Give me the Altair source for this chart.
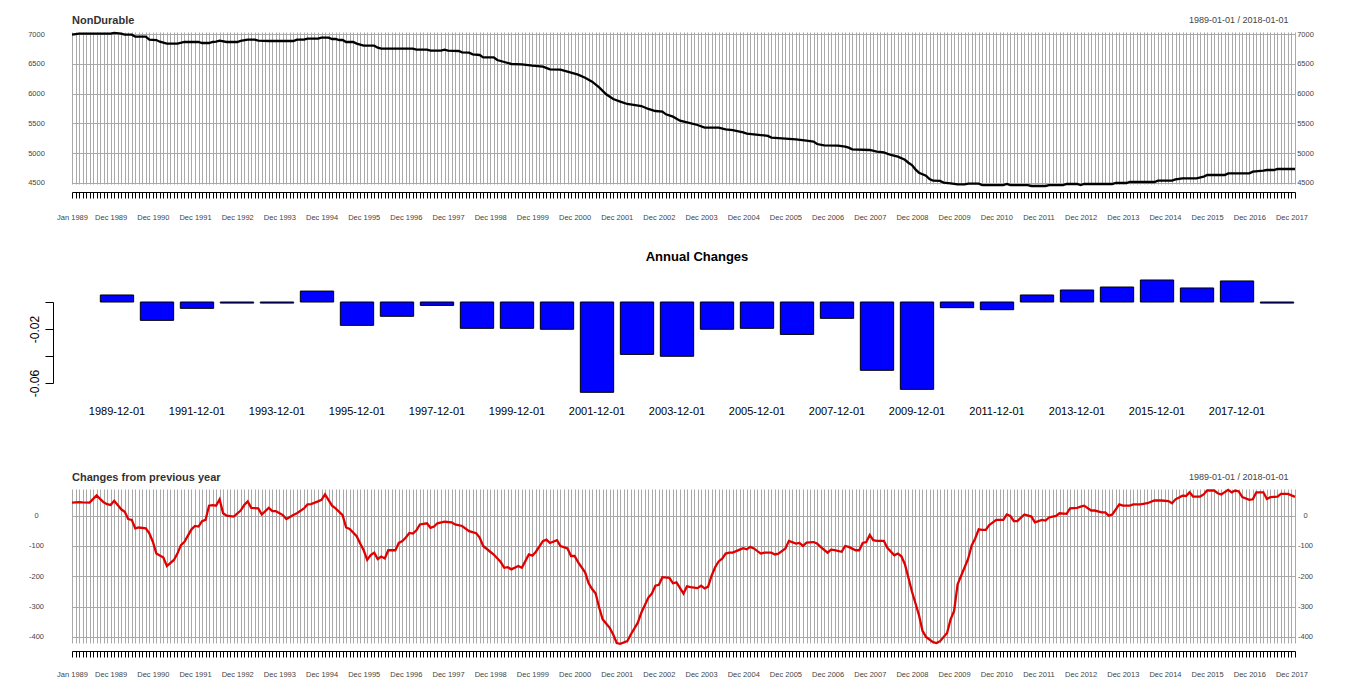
import altair as alt
import pandas as pd

FONT = "Liberation Sans"
GRID = "#A9A9A9"
TXT = "#444444"

# ---------------- data ----------------
# NonDurable level, month index (0 = Jan 1989 ... 348 = Jan 2018)
nd_month = [0, 2, 5, 8, 11, 12, 14, 15, 17, 18, 21, 22, 24, 25, 27, 30, 32, 36, 37, 39,
            40, 41, 42, 44, 47, 48, 50, 52, 53, 56, 63, 64, 66, 67, 70, 71, 73, 74, 75, 76,
            77, 78, 80, 81, 83, 86, 87, 88, 97, 98, 101, 102, 105, 106, 107, 110, 111, 113, 114, 116,
            117, 120, 121, 123, 125, 128, 131, 134, 136, 139, 141, 144, 146, 148, 150, 152, 154, 156, 158, 162,
            164, 166, 168, 169, 171, 173, 175, 178, 180, 184, 186, 188, 190, 191, 192, 196, 198, 199, 203, 206,
            209, 211, 212, 214, 218, 220, 221, 222, 227, 229, 231, 233, 235, 237, 238, 239, 240, 241, 243, 244,
            245, 247, 248, 250, 252, 254, 255, 258, 259, 265, 266, 267, 272, 273, 277, 278, 282, 283, 286, 287,
            288, 296, 297, 300, 301, 308, 309, 313, 314, 316, 320, 322, 323, 328, 329, 335, 336, 339, 340, 342,
            343, 348]
nd_value = [6989, 7006, 7006, 7006, 7006, 7018, 7006, 6989, 6989, 6955, 6955, 6905, 6899, 6871, 6838, 6838, 6866, 6866, 6849, 6849,
            6866, 6871, 6888, 6866, 6866, 6883, 6905, 6905, 6888, 6883, 6883, 6905, 6905, 6922, 6922, 6938, 6938, 6916, 6916, 6899,
            6899, 6866, 6866, 6838, 6804, 6804, 6771, 6754, 6754, 6737, 6737, 6720, 6720, 6737, 6720, 6715, 6692, 6687, 6659, 6648,
            6608, 6608, 6564, 6530, 6497, 6491, 6469, 6452, 6407, 6402, 6368, 6318, 6267, 6200, 6105, 5988, 5909, 5865, 5826, 5792,
            5742, 5708, 5697, 5652, 5613, 5546, 5518, 5473, 5428, 5428, 5400, 5389, 5361, 5350, 5328, 5305, 5289, 5261, 5244, 5233,
            5210, 5194, 5154, 5132, 5126, 5110, 5093, 5065, 5054, 5026, 5015, 4970, 4942, 4890, 4840, 4800, 4729, 4673, 4623, 4567,
            4539, 4534, 4506, 4494, 4478, 4478, 4489, 4489, 4466, 4466, 4483, 4466, 4466, 4450, 4450, 4466, 4466, 4483, 4483, 4466,
            4483, 4483, 4500, 4500, 4517, 4517, 4539, 4539, 4561, 4578, 4578, 4606, 4634, 4634, 4662, 4662, 4690, 4707, 4718, 4718,
            4735, 4735]

# Changes from previous year, month index and value
chg_month = [0, 2, 3, 5, 7, 9, 10, 11, 12, 14, 15, 16, 17, 18, 19, 21, 22, 23, 24, 26,
             27, 29, 30, 31, 32, 34, 35, 36, 37, 38, 39, 40, 41, 42, 43, 44, 46, 48, 49, 50,
             51, 53, 54, 56, 57, 58, 60, 61, 63, 64, 66, 67, 68, 70, 71, 72, 74, 75, 77, 78,
             79, 81, 82, 83, 84, 85, 86, 87, 88, 89, 90, 92, 93, 94, 95, 96, 97, 98, 99, 101,
             102, 103, 104, 106, 108, 109, 111, 113, 115, 116, 117, 119, 120, 122, 123, 124, 125, 127, 128, 129,
             130, 131, 132, 134, 135, 136, 138, 139, 141, 142, 143, 144, 146, 147, 148, 149, 150, 151, 153, 154,
             155, 156, 158, 159, 161, 162, 164, 165, 166, 167, 168, 170, 171, 172, 174, 175, 176, 178, 179, 180,
             181, 182, 183, 184, 185, 186, 187, 188, 190, 191, 192, 193, 194, 196, 197, 199, 200, 201, 203, 204,
             206, 207, 208, 209, 211, 212, 213, 215, 216, 217, 219, 220, 221, 223, 224, 225, 226, 227, 228, 229,
             231, 232, 234, 235, 236, 237, 238, 239, 240, 241, 242, 243, 245, 246, 247, 249, 250, 251, 252, 254,
             255, 256, 257, 258, 259, 260, 261, 263, 265, 266, 267, 268, 269, 271, 273, 274, 276, 277, 278, 280,
             281, 283, 284, 286, 287, 288, 290, 291, 293, 294, 295, 296, 298, 299, 301, 302, 304, 306, 308, 310,
             312, 313, 314, 316, 317, 318, 319, 321, 322, 323, 325, 326, 327, 329, 330, 331, 332, 333, 335, 336,
             337, 339, 340, 341, 343, 344, 346, 348]
chg_value = [43, 45, 44, 43, 67, 44, 38, 35, 49, 21, 13, -11, -14, -42, -39, -42, -58, -86, -125, -138,
             -166, -146, -125, -97, -86, -45, -34, -36, -18, -14, 33, 35, 33, 54, 8, 0, -3, 17, 35, 47,
             26, 24, 4, 26, 15, 15, 2, -11, 2, 8, 24, 37, 38, 47, 52, 70, 33, 24, 2, -39,
             -44, -68, -92, -114, -146, -130, -122, -143, -135, -141, -114, -114, -90, -84, -72, -57, -59, -48, -29, -25,
             -40, -36, -25, -20, -22, -29, -34, -51, -58, -72, -100, -119, -128, -153, -172, -170, -177, -166, -172, -150,
             -128, -132, -119, -84, -79, -90, -81, -100, -108, -133, -133, -153, -187, -223, -242, -257, -303, -342, -370, -392,
             -420, -423, -414, -392, -353, -320, -270, -257, -231, -228, -203, -205, -223, -220, -257, -233, -236, -239, -231, -240,
             -234, -198, -170, -151, -142, -125, -122, -122, -112, -107, -111, -103, -108, -125, -122, -122, -128, -125, -108, -83,
             -92, -90, -100, -89, -87, -92, -103, -122, -112, -114, -119, -100, -103, -114, -114, -90, -87, -64, -81, -83,
             -83, -106, -131, -125, -134, -160, -205, -250, -289, -328, -380, -400, -417, -420, -414, -387, -342, -314, -226, -170,
             -142, -98, -75, -45, -47, -47, -31, -14, -14, 4, -1, -18, -18, 4, -3, -22, -14, -16, -6, -1,
             8, 6, 24, 26, 30, 33, 17, 17, 11, 11, 0, 4, 37, 33, 33, 37, 37, 41, 50, 50,
             48, 41, 54, 66, 65, 77, 63, 63, 70, 83, 83, 74, 70, 85, 77, 83, 80, 61, 52, 54,
             77, 77, 55, 61, 63, 72, 72, 62]

# Annual changes (bars)
annual_dates = ["1989-12-01", "1990-12-01", "1991-12-01", "1992-12-01", "1993-12-01", "1994-12-01",
                "1995-12-01", "1996-12-01", "1997-12-01", "1998-12-01", "1999-12-01", "2000-12-01",
                "2001-12-01", "2002-12-01", "2003-12-01", "2004-12-01", "2005-12-01", "2006-12-01",
                "2007-12-01", "2008-12-01", "2009-12-01", "2010-12-01", "2011-12-01", "2012-12-01",
                "2013-12-01", "2014-12-01", "2015-12-01", "2016-12-01", "2017-12-01", "2018-01-01"]
annual_values = [0.0052, -0.0136, -0.0047, -0.0008, -0.0008, 0.0081,
                 -0.0173, -0.0106, -0.0025, -0.0195, -0.0195, -0.0202,
                 -0.0669, -0.0388, -0.0402, -0.0202, -0.0195, -0.0240,
                 -0.0121, -0.0506, -0.0647, -0.0042, -0.0057, 0.0052,
                 0.0089, 0.0111, 0.0163, 0.0104, 0.0156, -0.0008]

# Tick labels
month_tick_count = 349
month_label_index = [0, 11, 23, 35, 47, 59, 71, 83, 95, 107, 119, 131, 143, 155, 167,
                     179, 191, 203, 215, 227, 239, 251, 263, 275, 287, 299, 311, 323, 335, 347]
month_label_text = ["Jan 1989", "Dec 1989", "Dec 1990", "Dec 1991", "Dec 1992", "Dec 1993",
                    "Dec 1994", "Dec 1995", "Dec 1996", "Dec 1997", "Dec 1998", "Dec 1999",
                    "Dec 2000", "Dec 2001", "Dec 2002", "Dec 2003", "Dec 2004", "Dec 2005",
                    "Dec 2006", "Dec 2007", "Dec 2008", "Dec 2009", "Dec 2010", "Dec 2011",
                    "Dec 2012", "Dec 2013", "Dec 2014", "Dec 2015", "Dec 2016", "Dec 2017"]
nd_ticks = [4500, 5000, 5500, 6000, 6500, 7000]
chg_ticks = [-400, -300, -200, -100, 0]
ann_ticks = [0, -0.02, -0.04, -0.06]
ann_tick_labels = ["", "-0.02", "", "-0.06"]
range_text = "1989-01-01 / 2018-01-01"

# ---------------- chart ----------------
all_months = list(range(month_tick_count))
month_expr = ("[" + ",".join("'%s'" % t for t in month_label_text) + "][indexof(["
              + ",".join(str(i) for i in month_label_index) + "], datum.value)] || ''")
ann_expr = ("[" + ",".join("'%s'" % t for t in ann_tick_labels) + "][indexof(["
            + ",".join(repr(v) for v in ann_ticks) + "], datum.value)] || ''")

PLOT_W = 1223


def ts_panel(df, color, ydom, yvals, height, title, xlab_pad):
    xs = alt.Scale(domain=[0, month_tick_count - 1], nice=False, zero=False)
    ys = alt.Scale(domain=ydom, nice=False, zero=False)
    x_main = alt.X("m:Q", scale=xs, axis=alt.Axis(
        values=all_months, labelExpr=month_expr, title=None, grid=True, gridColor=GRID,
        gridWidth=1, domainColor="black", tickColor="black", tickSize=6, offset=8,
        labelPadding=xlab_pad, labelFontSize=7.5, labelColor=TXT, labelFont=FONT,
        labelOverlap=False, labelFlush=False, labelBound=False, labelAngle=0))
    y_main = alt.Y("v:Q", scale=ys, axis=alt.Axis(
        values=yvals, labelExpr="'' + datum.value", title=None, grid=True, gridColor=GRID,
        gridWidth=1, ticks=False, tickSize=0, domain=False, labelPadding=36, labelAlign="center",
        labelFontSize=7.5, labelColor=TXT, labelFont=FONT))
    line = alt.Chart(df).mark_line(color=color, strokeWidth=2.3).encode(x=x_main, y=y_main)
    x_top = alt.X("m:Q", scale=xs, axis=alt.Axis(
        orient="top", labels=False, ticks=False, domain=False, grid=False, title=range_text,
        titleAnchor="end", titleAlign="right", titleX=PLOT_W - 7, titleFontSize=9,
        titleFontWeight="normal", titleColor=TXT, titlePadding=8, titleFont=FONT,
        minExtent=0, maxExtent=0))
    y_right = alt.Y("v:Q", scale=ys, axis=alt.Axis(
        orient="right", values=yvals, labelExpr="'' + datum.value", title=None, grid=False,
        ticks=False, tickSize=0, domain=False, labelPadding=10, labelAlign="center",
        labelFontSize=7.5, labelColor=TXT, labelFont=FONT))
    ghost = alt.Chart(df).mark_line(opacity=0).encode(x=x_top, y=y_right)
    return alt.layer(line, ghost).resolve_scale(x="independent", y="independent").properties(
        width=PLOT_W, height=height,
        title=alt.TitleParams(title, anchor="start", frame="group", offset=7, dy=18, fontSize=11,
                              fontWeight="bold", color="#333333", font=FONT))


df_nd = pd.DataFrame({"m": nd_month, "v": nd_value})
df_chg = pd.DataFrame({"m": chg_month, "v": chg_value})
df_ann = pd.DataFrame({"d": annual_dates, "v": annual_values})

p1 = ts_panel(df_nd, "black", [4483.2, 7033.6], nd_ticks, 152, "NonDurable", 15)
p3 = ts_panel(df_chg, "#E00000", [-420, 88], chg_ticks, 154, "Changes from previous year", 13)

p2 = alt.Chart(df_ann).mark_bar(color="#0000FF", stroke="black", strokeWidth=1).encode(
    x=alt.X("d:N", sort=None, scale=alt.Scale(paddingInner=0.1667, paddingOuter=0.708),
            axis=alt.Axis(values=annual_dates[::2], title=None, ticks=False, domain=False,
                          labelAngle=0, labelFontSize=11, labelColor="black", labelPadding=14,
                          labelFont=FONT, grid=False)),
    y=alt.Y("v:Q", scale=alt.Scale(domain=[-0.06, 0], range=[101, 20], nice=False, zero=False),
            axis=alt.Axis(values=ann_ticks, labelExpr=ann_expr, title=None, offset=19,
                          tickSize=8, tickColor="black", domainColor="black", labelAngle=270,
                          labelAlign="center", labelBaseline="bottom", labelPadding=4,
                          labelFontSize=12, labelColor="black", labelFont=FONT, grid=False))
).properties(width=1250, height=109,
             title=alt.TitleParams("Annual Changes", anchor="middle", frame="group", offset=15,
                                   fontSize=13, fontWeight="bold", color="black", font=FONT))

chart = alt.vconcat(p1, p2, p3, spacing=98, bounds="flush",
                    padding={"left": 27, "top": 15, "right": 5, "bottom": 5}
                    ).configure(font=FONT).configure_view(strokeWidth=0)

chart.save("out.html", embed_options={"renderer": "svg", "actions": False})
